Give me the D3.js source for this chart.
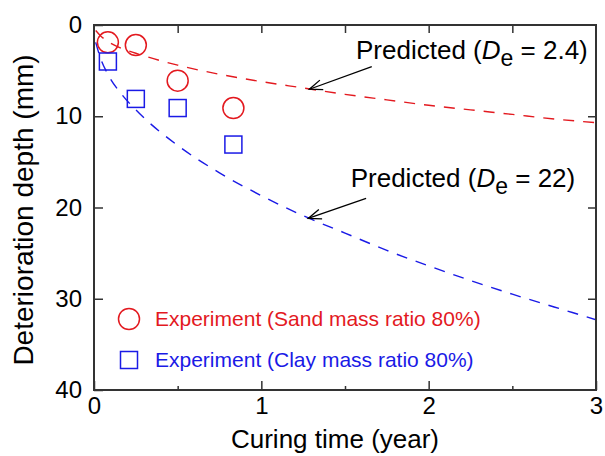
<!DOCTYPE html>
<html>
<head>
<meta charset="UTF-8">
<title></title>
<style>
  body { margin: 0; background: #fff; }
  text { font-family: "Liberation Sans", Arial, Helvetica, sans-serif; }
</style>
</head>
<body>
<div id="chart"></div>
<script src="https://cdn.jsdelivr.net/npm/d3@7"></script>
<script>
// experiment points (curing time in year, depth in mm)
var expTime = [0.083, 0.25, 0.5, 0.833];
var sandDepth = [1.9, 2.2, 6.1, 9.1];
var clayDepth = [4.0, 8.1, 9.1, 13.1];

// predicted curves
var predTime = [0.01, 0.04, 0.083, 0.17, 0.25, 0.5, 0.75, 1, 1.25, 1.5, 1.75, 2, 2.25, 2.5, 2.75, 3];
var predSand = [0.6, 1.2, 1.8, 2.6, 3.1, 4.4, 5.4, 6.2, 6.9, 7.6, 8.2, 8.8, 9.3, 9.8, 10.3, 10.7];
var predClay = [1.9, 3.7, 5.4, 7.7, 9.3, 13.2, 16.2, 18.7, 20.9, 22.8, 24.7, 26.4, 28.0, 29.5, 30.9, 32.3];

var xTicks = [0, 1, 2, 3];
var xMinor = [0.5, 1.5, 2.5];
var xTop = [0.5, 1, 1.5, 2, 2.5];
var yTicks = [0, 10, 20, 30, 40];
var yRight = [10, 20, 30];

var red = "#e3191f", blue = "#1a1ae6";
var width = 605, height = 456;

var svg = d3.select("#chart").append("svg")
  .attr("width", width).attr("height", height);

var x = d3.scaleLinear().domain([0, 3]).range([94, 596]);
var y = d3.scaleLinear().domain([0, 40]).range([25, 390]);

svg.append("defs").append("clipPath").attr("id", "clip")
  .append("rect")
  .attr("x", x(0)).attr("y", y(0))
  .attr("width", x(3) - x(0)).attr("height", y(40) - y(0));

// predicted dashed lines
var line = d3.line().curve(d3.curveMonotoneX);
[[predSand, red], [predClay, blue]].forEach(function(s) {
  svg.append("path")
    .attr("clip-path", "url(#clip)")
    .attr("d", line(predTime.map(function(t, i) { return [x(t), y(s[0][i])]; })))
    .attr("fill", "none")
    .attr("stroke", s[1])
    .attr("stroke-width", 1.4)
    .attr("stroke-dasharray", "11,9");
});

// experiment markers
svg.selectAll(".sand").data(expTime).enter().append("circle")
  .attr("cx", function(d) { return x(d); })
  .attr("cy", function(d, i) { return y(sandDepth[i]); })
  .attr("r", 10.5)
  .attr("fill", "none").attr("stroke", red).attr("stroke-width", 1.5);

svg.selectAll(".clay").data(expTime).enter().append("rect")
  .attr("x", function(d) { return x(d) - 8.5; })
  .attr("y", function(d, i) { return y(clayDepth[i]) - 8.5; })
  .attr("width", 17).attr("height", 17)
  .attr("fill", "none").attr("stroke", blue).attr("stroke-width", 1.5);

// axes
function style(g) {
  g.select(".domain").remove();
  g.selectAll("line").attr("stroke", "#333").attr("stroke-width", 1.5);
  g.selectAll("text").attr("fill", "#000").style("font-size", "24px")
    .style("font-family", '"Liberation Sans", Arial, sans-serif');
}
svg.append("g").attr("transform", "translate(0," + y(40) + ")")
  .call(d3.axisBottom(x).tickValues(xTicks).tickSize(-9).tickPadding(7).tickFormat(d3.format("d")))
  .call(style);
svg.append("g").attr("transform", "translate(0," + y(40) + ")")
  .call(d3.axisBottom(x).tickValues(xMinor).tickSize(-4).tickFormat(""))
  .call(style);
svg.append("g").attr("transform", "translate(0," + y(0) + ")")
  .call(d3.axisTop(x).tickValues(xTop).tickSize(-8).tickFormat(""))
  .call(style);
svg.append("g").attr("transform", "translate(" + x(0) + ",0)")
  .call(d3.axisLeft(y).tickValues(yTicks).tickSize(-9).tickPadding(12).tickFormat(d3.format("d")))
  .call(style);
svg.append("g").attr("transform", "translate(" + x(3) + ",0)")
  .call(d3.axisRight(y).tickValues(yRight).tickSize(-8).tickFormat(""))
  .call(style);

svg.append("rect")
  .attr("x", x(0)).attr("y", y(0))
  .attr("width", x(3) - x(0)).attr("height", y(40) - y(0))
  .attr("fill", "none").attr("stroke", "#333").attr("stroke-width", 2);

// axis titles
svg.append("text")
  .attr("x", 335).attr("y", 448)
  .attr("text-anchor", "middle")
  .style("font-size", "26px")
  .text("Curing time (year)");
svg.append("text")
  .attr("transform", "translate(33,210) rotate(-90)")
  .attr("text-anchor", "middle")
  .style("font-size", "28px")
  .text("Deterioration depth (mm)");

// annotations
svg.append("defs").append("marker")
  .attr("id", "arr").attr("viewBox", "-15 -7 17 14")
  .attr("refX", 0).attr("refY", 0)
  .attr("markerWidth", 17).attr("markerHeight", 14)
  .attr("markerUnits", "userSpaceOnUse")
  .attr("orient", "auto")
  .append("path").attr("d", "M-13,-5 L0,0 L-13,5")
  .attr("fill", "none").attr("stroke", "#000").attr("stroke-width", 1.3);

var notes = [
  { tx: 1.566, ty: 3.73, val: "2.4", from: [1.66, 4.57], to: [1.287, 7.04] },
  { tx: 1.534, ty: 17.8, val: "22", from: [1.626, 19.0], to: [1.28, 21.2] }
];
notes.forEach(function(n) {
  var t = svg.append("text")
    .attr("x", x(n.tx)).attr("y", y(n.ty))
    .style("font-size", "26px");
  t.append("tspan").text("Predicted (");
  t.append("tspan").style("font-style", "italic").text("D");
  t.append("tspan").attr("dy", 7).style("font-size", "23px").text("e");
  t.append("tspan").attr("dy", -7).text(" = " + n.val + ")");
  svg.append("line")
    .attr("x1", x(n.from[0])).attr("y1", y(n.from[1]))
    .attr("x2", x(n.to[0])).attr("y2", y(n.to[1]))
    .attr("stroke", "#000").attr("stroke-width", 1.3)
    .attr("marker-end", "url(#arr)");
});

// legend
var legend = [
  { name: "Experiment (Sand mass ratio 80%)", color: red, shape: "circle" },
  { name: "Experiment (Clay mass ratio 80%)", color: blue, shape: "square" }
];
var lg = svg.selectAll(".legend").data(legend).enter().append("g")
  .attr("class", "legend")
  .attr("transform", function(d, i) { return "translate(129," + (319 + i * 41) + ")"; });
lg.each(function(d) {
  var g = d3.select(this);
  if (d.shape === "circle") {
    g.append("circle").attr("r", 10.5)
      .attr("fill", "none").attr("stroke", d.color).attr("stroke-width", 1.5);
  } else {
    g.append("rect").attr("x", -8.5).attr("y", -8.5).attr("width", 17).attr("height", 17)
      .attr("fill", "none").attr("stroke", d.color).attr("stroke-width", 1.5);
  }
});
lg.append("text")
  .attr("x", 26).attr("y", 7)
  .attr("fill", function(d) { return d.color; })
  .style("font-size", "21px")
  .text(function(d) { return d.name; });
</script>
</body>
</html>
